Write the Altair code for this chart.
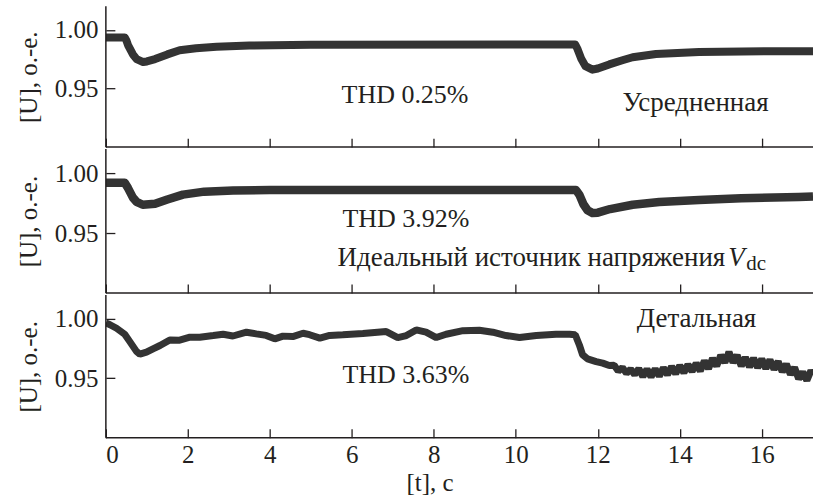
import altair as alt
import pandas as pd

# ---- data ----
t_avg = [0, 0.46, 0.50, 0.54, 0.66, 0.75, 0.91, 1.0, 1.2, 1.5, 1.8, 2.2, 2.7, 3.5, 5.0,
         11.45, 11.5, 11.6, 11.7, 11.87, 12.0, 12.28, 12.6, 12.85, 13.42, 14.47, 16.1, 17.25]
u_avg = [0.9935, 0.9935, 0.991, 0.987, 0.979, 0.975, 0.9725, 0.973, 0.975, 0.979, 0.9825, 0.9842,
         0.9855, 0.9866, 0.9872, 0.9874, 0.984, 0.975, 0.969, 0.966, 0.967, 0.9705, 0.974, 0.9766,
         0.9794, 0.9811, 0.9817, 0.9817]

t_ideal = [0, 0.46, 0.54, 0.66, 0.75, 0.9, 1.2, 1.5, 1.88, 2.4, 3.1, 4.0, 5.5,
           11.47, 11.55, 11.65, 11.75, 11.87, 12.0, 12.3, 12.85, 13.5, 14.47, 15.5, 16.9, 17.25]
u_ideal = [0.992, 0.992, 0.9875, 0.9795, 0.976, 0.9736, 0.9745, 0.978, 0.982, 0.9845, 0.9855,
           0.9858, 0.9858, 0.9858, 0.982, 0.974, 0.969, 0.9667, 0.967, 0.970, 0.9736, 0.9758,
           0.9775, 0.979, 0.980, 0.9805]

t_det = [0, 0.1, 0.26, 0.46, 0.58, 0.75, 0.83, 0.99, 1.15, 1.32, 1.56, 1.8, 2.05, 2.29, 2.62,
         2.86, 3.1, 3.43, 3.67, 3.91, 4.12, 4.32, 4.56, 4.81, 4.97, 5.22, 5.46, 5.78, 6.27,
         6.84, 7.12, 7.33, 7.57, 7.81, 8.06, 8.30, 8.71, 9.11, 9.44, 9.76, 10.09, 10.5, 10.98,
         11.31, 11.45, 11.55, 11.63, 11.75, 11.96, 12.12, 12.28,
         12.4, 12.5, 12.6, 12.7, 12.8, 12.9, 13.0, 13.1, 13.2, 13.3, 13.4, 13.5, 13.6, 13.7,
         13.8, 13.9, 14.0, 14.1, 14.2, 14.3, 14.4, 14.5, 14.6, 14.7, 14.8, 14.9, 15.0, 15.1,
         15.2, 15.3, 15.4, 15.5, 15.6, 15.7, 15.8, 15.9, 16.0, 16.1, 16.2, 16.3, 16.4, 16.5,
         16.6, 16.7, 16.8, 16.9, 17.0, 17.1, 17.2, 17.25]
u_det = [0.9965, 0.995, 0.992, 0.987, 0.981, 0.9724, 0.9702, 0.9719, 0.9747, 0.9775, 0.9822,
         0.982, 0.9845, 0.9845, 0.9859, 0.987, 0.9855, 0.9887, 0.9873, 0.986, 0.9831, 0.9854,
         0.985, 0.9878, 0.9866, 0.9837, 0.986, 0.9866, 0.9876, 0.9892, 0.9842, 0.9859, 0.9906,
         0.9887, 0.9842, 0.987, 0.990, 0.9903, 0.9887, 0.9859, 0.9842, 0.9859, 0.987, 0.987,
         0.9866, 0.978, 0.9697, 0.9663, 0.964, 0.9627, 0.9607,
         0.9610, 0.9560, 0.9590, 0.9542, 0.9576, 0.9531, 0.9580, 0.9514, 0.9576, 0.9511, 0.9578,
         0.9518, 0.9588, 0.9530, 0.9598, 0.9538, 0.9607, 0.9547, 0.9616, 0.9557, 0.9626, 0.9561,
         0.9646, 0.9580, 0.9667, 0.9602, 0.9693, 0.9632, 0.9721, 0.9632, 0.9693, 0.9602, 0.9675,
         0.9595, 0.9668, 0.9589, 0.9662, 0.9582, 0.9655, 0.9575, 0.9641, 0.9554, 0.9619, 0.9532,
         0.9590, 0.9495, 0.9552, 0.9482, 0.9565, 0.9530]

x_ticks = [0, 2, 4, 6, 8, 10, 12, 14, 16]
y_ticks = [0.95, 1.00]
x_domain = [0, 17.25]
y_domain = [0.9, 1.02]

thd_labels = ["THD 0.25%", "THD 3.92%", "THD 3.63%"]
model_labels = ["Усредненная", "Идеальный источник напряжения", "Детальная"]

FONT = "Liberation Serif"
INK = "#231f20"
LINE = "#333333"
W = 708

one = pd.DataFrame({"k": [0]})


def panel(t, u, height, stroke, join, texts, last):
    df = pd.DataFrame({"t": t, "u": u})
    xax = alt.Axis(values=x_ticks, offset=-9, tickSize=9, domain=False, grid=False,
                   labels=last, labelFont=FONT, labelFontSize=25, labelColor=INK,
                   labelPadding=5, tickColor=INK, tickWidth=1.3,
                   titleFont=FONT, titleFontSize=25, titleColor=INK, titleFontWeight="normal",
                   titleX=324, titleY=62, titleBaseline="alphabetic", titleAlign="center")
    yax = alt.Axis(values=y_ticks, offset=-9, tickSize=9, domain=False, grid=False,
                   format=".2f", labelFont=FONT, labelFontSize=25, labelColor=INK,
                   labelPadding=8, tickColor=INK, tickWidth=1.3,
                   titleFont=FONT, titleFontSize=25, titleColor=INK, titleFontWeight="normal",
                   titlePadding=13)
    x = alt.X("t:Q", scale=alt.Scale(domain=x_domain, nice=False, zero=False),
              axis=xax, title="[t], с" if last else None)
    y = alt.Y("u:Q", scale=alt.Scale(domain=y_domain, nice=False, zero=False),
              axis=yax, title="[U], о.-е.")
    line = alt.Chart(df).mark_line(color=LINE, strokeWidth=stroke, strokeJoin=join,
                                   strokeCap="butt", clip=True).encode(x=x, y=y)
    frame_x = alt.Chart(one).mark_rule(color=INK, strokeWidth=1.5).encode(
        y=alt.datum(y_domain[0]))
    frame_y = alt.Chart(one).mark_rule(color=INK, strokeWidth=1.5).encode(
        x=alt.datum(0))
    layers = [line, frame_x, frame_y]
    for (tx, ty, txt, size, italic, align) in texts:
        layers.append(
            alt.Chart(one).mark_text(font=FONT, fontSize=size, color=INK, align=align,
                                     baseline="alphabetic",
                                     fontStyle="italic" if italic else "normal").encode(
                x=alt.datum(tx), y=alt.datum(ty), text=alt.value(txt)))
    return alt.layer(*layers).properties(width=W, height=height)


p1 = panel(t_avg, u_avg, 141, 8, "round",
           [(5.75, 0.9377, thd_labels[0], 26, False, "left"),
            (12.6, 0.9306, model_labels[0], 27, False, "left")], False)
p2 = panel(t_ideal, u_ideal, 144, 8.5, "round",
           [(5.77, 0.9547, thd_labels[1], 26, False, "left"),
            (15.11, 0.9225, model_labels[1], 27, False, "right"),
            (15.18, 0.9225, "V", 27, True, "left"),
            (15.62, 0.9195, "dc", 21, False, "left")], False)
p3 = panel(t_det, u_det, 143, 7, "bevel",
           [(12.95, 0.9934, model_labels[2], 27, False, "left"),
            (5.77, 0.9459, thd_labels[2], 26, False, "left")], True)

chart = alt.vconcat(p1, p2, p3, spacing=0).properties(
    padding={"left": 16, "top": 5, "right": 0, "bottom": 0},
    background="white",
).configure_view(stroke=None).configure_concat(spacing=0).configure_axis(
    labelFont=FONT, titleFont=FONT
).configure_text(font=FONT)

chart.save("out.html", embed_options={"renderer": "svg", "actions": False})
